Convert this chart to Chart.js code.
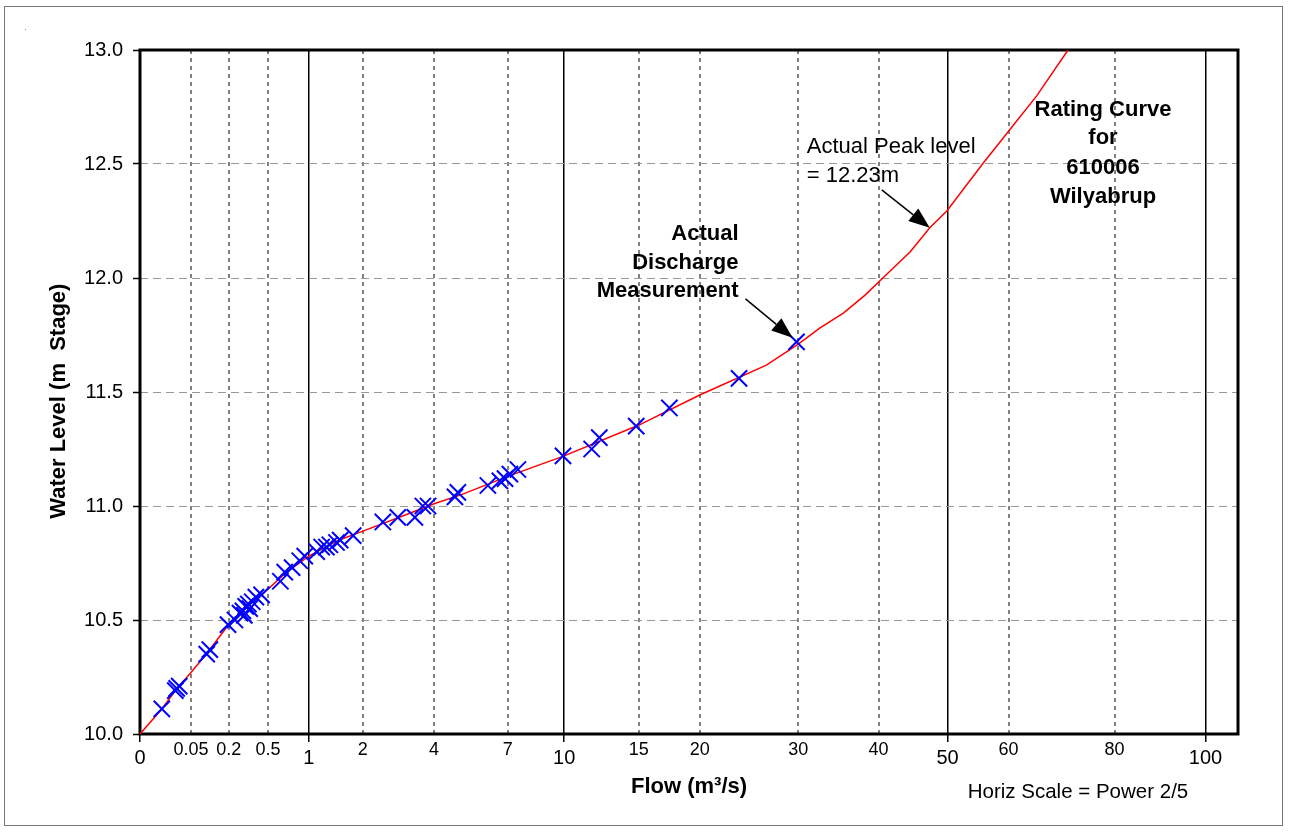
<!DOCTYPE html>
<html>
<head>
<meta charset="utf-8">
<style>
    html, body { margin: 0; padding: 0; background: #fff; }
    canvas { display: block; }
</style>
<script src="https://cdn.jsdelivr.net/npm/chart.js@4/dist/chart.umd.min.js"></script>
</head>
<body>
<canvas id="ratingChart" width="1289" height="832"></canvas>
<script>
(function () {
    "use strict";

    // measured gaugings (flow m3/s, stage m)
    const flowMeasured = [
        0.006, 0.020, 0.022, 0.026, 0.098, 0.11, 0.196, 0.237, 0.27, 0.29,
        0.31, 0.33, 0.30, 0.36, 0.39, 0.34, 0.44, 0.63, 0.68, 0.77,
        0.87, 0.94, 1.12, 1.20, 1.28, 1.34, 1.46, 1.53, 1.79, 2.48,
        2.88, 3.38, 3.63, 3.80, 4.75, 4.86, 6.09, 6.63, 6.87, 7.10,
        7.49, 9.93, 11.7, 12.2, 14.8, 17.4, 23.7, 29.8
    ];
    const levelMeasured = [
        10.11, 10.19, 10.20, 10.21, 10.35, 10.37, 10.48, 10.50, 10.53, 10.54,
        10.56, 10.57, 10.52, 10.58, 10.60, 10.55, 10.61, 10.67, 10.71, 10.73,
        10.76, 10.78, 10.80, 10.82, 10.82, 10.83, 10.84, 10.85, 10.87, 10.93,
        10.95, 10.95, 11.00, 11.00, 11.04, 11.06, 11.09, 11.11, 11.12, 11.14,
        11.16, 11.22, 11.25, 11.30, 11.35, 11.43, 11.56, 11.72
    ];

    // rating curve
    const flowCurve = [
        0, 0.006, 0.02, 0.05, 0.1, 0.2, 0.3, 0.5, 0.7, 1.0,
        1.5, 2, 3, 4, 5, 7, 10, 15, 20, 26.5,
        30, 32.5, 35.4, 38.2, 41.3, 44.4, 47.3, 49.9, 55.6, 60.2,
        65, 70.8
    ];
    const levelCurve = [
        10.0, 10.11, 10.19, 10.27, 10.355, 10.48, 10.55, 10.635, 10.71, 10.78,
        10.85, 10.89, 10.955, 11.01, 11.05, 11.13, 11.22, 11.355, 11.487, 11.618,
        11.71, 11.78, 11.846, 11.925, 12.022, 12.114, 12.22, 12.294, 12.50, 12.65,
        12.80, 13.0
    ];

    const flowTicks = [0, 0.05, 0.2, 0.5, 1, 2, 4, 7, 10, 15, 20, 30, 40, 50, 60, 80, 100];
    const flowMajor = [0, 1, 10, 50, 100];
    const levelTicks = [10.0, 10.5, 11.0, 11.5, 12.0, 12.5, 13.0];

    const peakFlow = 47.3;
    const peakLevel = 12.22;

    const FONT = '"Liberation Sans", Arial, sans-serif';
    const POWER = 0.4;

    /**
     * @description linear scale with a power 2/5 transform on the values
     */
    class PowerScale extends Chart.LinearScale {
        getPixelForValue(value) {
            if (value === null || isNaN(value)) {
                return NaN;
            }
            const lo = Math.pow(this.min, POWER);
            const hi = Math.pow(this.max, POWER);
            const t = Math.pow(Math.max(value, 0), POWER);
            return this.getPixelForDecimal((t - lo) / (hi - lo));
        }
        getValueForPixel(pixel) {
            const lo = Math.pow(this.min, POWER);
            const hi = Math.pow(this.max, POWER);
            const d = this.getDecimalForPixel(pixel);
            return Math.pow(lo + d * (hi - lo), 1 / POWER);
        }
    }
    PowerScale.id = "power";
    PowerScale.defaults = Chart.LinearScale.defaults;
    Chart.register(PowerScale);

    function isMajor(ctx) {
        return ctx.tick && flowMajor.indexOf(ctx.tick.value) !== -1;
    }

    function drawArrow(ctx, x1, y1, x2, y2) {
        const ang = Math.atan2(y2 - y1, x2 - x1);
        const len = 21;
        const half = 8;
        const bx = x2 - Math.cos(ang) * len;
        const by = y2 - Math.sin(ang) * len;
        ctx.strokeStyle = "#000";
        ctx.lineWidth = 1.5;
        ctx.beginPath();
        ctx.moveTo(x1, y1);
        ctx.lineTo(bx, by);
        ctx.stroke();
        ctx.fillStyle = "#000";
        ctx.beginPath();
        ctx.moveTo(x2, y2);
        ctx.lineTo(bx + Math.sin(ang) * half, by - Math.cos(ang) * half);
        ctx.lineTo(bx - Math.sin(ang) * half, by + Math.cos(ang) * half);
        ctx.closePath();
        ctx.fill();
    }

    const annotations = {
        id: "annotations",
        beforeDraw(chart) {
            const ctx = chart.ctx;
            ctx.save();
            ctx.fillStyle = "#fff";
            ctx.fillRect(0, 0, chart.width, chart.height);
            ctx.restore();
        },
        beforeDatasetsDraw(chart) {
            const ctx = chart.ctx;
            const a = chart.chartArea;
            ctx.save();
            ctx.strokeStyle = "#000";
            ctx.lineWidth = 3;
            ctx.strokeRect(a.left, a.top, a.right - a.left, a.bottom - a.top);
            ctx.restore();
        },
        afterDraw(chart) {
            const ctx = chart.ctx;
            const a = chart.chartArea;
            const xs = chart.scales.x;
            const ys = chart.scales.y;
            ctx.save();

            // outer frame
            ctx.strokeStyle = "#777";
            ctx.lineWidth = 1;
            ctx.strokeRect(4.5, 6.5, 1278, 819);
            ctx.fillStyle = "#888";
            ctx.fillRect(25, 29, 1, 1);

            ctx.fillStyle = "#000";
            ctx.textBaseline = "middle";

            // peak level note
            const px = xs.getPixelForValue(peakFlow);
            const py = ys.getPixelForValue(peakLevel);
            ctx.font = "22px " + FONT;
            ctx.textAlign = "left";
            ctx.fillText("Actual Peak level", px - 123, py - 81);
            ctx.fillText("= 12.23m", px - 123, py - 52);
            drawArrow(ctx, px - 48, py - 38, px, py);

            // measured discharge note
            const last = flowMeasured.length - 1;
            const mx = xs.getPixelForValue(flowMeasured[last]) - 4;
            const my = ys.getPixelForValue(levelMeasured[last]) - 4;
            ctx.fillStyle = "#000";
            ctx.font = "bold 22px " + FONT;
            ctx.textAlign = "right";
            ctx.fillText("Actual", mx - 54, my - 104);
            ctx.fillText("Discharge", mx - 54, my - 75);
            ctx.fillText("Measurement", mx - 54, my - 47);
            drawArrow(ctx, mx - 47, my - 39, mx, my);

            // chart label
            ctx.fillStyle = "#000";
            ctx.textAlign = "center";
            const cx = a.right - 135;
            ctx.fillText("Rating Curve", cx, a.top + 60);
            ctx.fillText("for", cx, a.top + 88);
            ctx.fillText("610006", cx, a.top + 118);
            ctx.fillText("Wilyabrup", cx, a.top + 147);

            ctx.font = "20.5px " + FONT;
            ctx.fillText("Horiz Scale = Power 2/5", 1078, 792);
            ctx.restore();
        },
    };

    const data = {
        datasets: [
            {
                label: "Measured",
                data: flowMeasured.map((q, i) => ({ x: q, y: levelMeasured[i] })),
                showLine: false,
                pointStyle: "crossRot",
                pointRadius: 11.5,
                pointBorderWidth: 2,
                borderColor: "#0000ff",
                backgroundColor: "#0000ff",
            },
            {
                label: "Rating Curve",
                data: flowCurve.map((q, i) => ({ x: q, y: levelCurve[i] })),
                showLine: true,
                pointRadius: 0,
                borderWidth: 1.5,
                borderColor: "#ff0000",
                backgroundColor: "#ff0000",
                tension: 0,
            },
        ],
    };

    const config = {
        type: "scatter",
        data: data,
        plugins: [annotations],
        options: {
            responsive: false,
            animation: false,
            layout: {
                padding: { top: 50, right: 51, left: 0, bottom: 0 },
            },
            plugins: {
                legend: { display: false },
                tooltip: { enabled: false },
            },
            scales: {
                x: {
                    type: "power",
                    min: 0,
                    max: 107.8,
                    afterFit: function (scale) {
                        scale.height = 98;
                    },
                    afterBuildTicks: function (scale) {
                        scale.ticks = flowTicks.map((v) => ({ value: v }));
                    },
                    border: {
                        display: false,
                        dash: (ctx) => (ctx.tick && !isMajor(ctx) ? [4, 4] : []),
                    },
                    grid: {
                        color: (ctx) => (isMajor(ctx) ? "#000" : "#808080"),
                        lineWidth: (ctx) => (isMajor(ctx) ? 1.5 : 2),
                        tickColor: (ctx) => (isMajor(ctx) ? "#000" : "rgba(0,0,0,0)"),
                        tickLength: 8,
                        tickWidth: 1.5,
                    },
                    ticks: {
                        autoSkip: false,
                        maxRotation: 0,
                        padding: -3,
                        color: "#000",
                        callback: (v) => String(v),
                        font: (ctx) =>
                            isMajor(ctx)
                                ? { family: FONT, size: 20, lineHeight: 1.9 }
                                : { family: FONT, size: 18, lineHeight: 1.2 },
                    },
                    title: {
                        display: true,
                        text: "Flow (m³/s)",
                        color: "#000",
                        font: { family: FONT, size: 22, weight: "bold" },
                        padding: { top: 0, bottom: 32 },
                    },
                },
                y: {
                    type: "linear",
                    min: 10,
                    max: 13,
                    afterFit: function (scale) {
                        scale.width = 140;
                    },
                    afterBuildTicks: function (scale) {
                        scale.ticks = levelTicks.map((v) => ({ value: v }));
                    },
                    border: {
                        display: false,
                        dash: [8, 5],
                    },
                    grid: {
                        color: "#999",
                        lineWidth: 1,
                        tickColor: "#000",
                        tickLength: 7,
                        tickWidth: 1.5,
                    },
                    ticks: {
                        padding: 10,
                        color: "#000",
                        font: { family: FONT, size: 20 },
                        callback: (v) => Number(v).toFixed(1),
                    },
                    title: {
                        display: true,
                        text: "Water Level (m  Stage)   ",
                        color: "#000",
                        font: { family: FONT, size: 22, weight: "bold" },
                        padding: { top: 46, bottom: 0 },
                    },
                },
            },
        },
    };

    new Chart(document.getElementById("ratingChart"), config);
})();
</script>
</body>
</html>
